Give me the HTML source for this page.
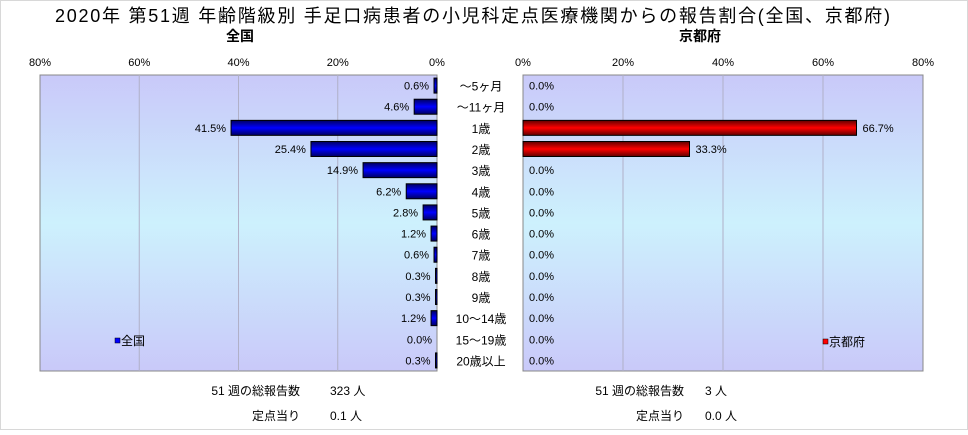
<!DOCTYPE html>
<html><head><meta charset="utf-8">
<style>
body{margin:0;background:#fff;}
svg text{font-family:"Liberation Sans","Noto Sans CJK JP",sans-serif;}
</style></head>
<body>
<svg id="c" width="968" height="430" xmlns="http://www.w3.org/2000/svg">
<defs>
<linearGradient id="bg" x1="0" y1="0" x2="0" y2="1">
<stop offset="0" stop-color="#c9c9f9"/><stop offset="0.5" stop-color="#cdf1fd"/><stop offset="1" stop-color="#c9c9f9"/>
</linearGradient>
<linearGradient id="blue" x1="0" y1="0" x2="0" y2="1">
<stop offset="0" stop-color="#000060"/><stop offset="0.5" stop-color="#0000ff"/><stop offset="1" stop-color="#000060"/>
</linearGradient>
<linearGradient id="red" x1="0" y1="0" x2="0" y2="1">
<stop offset="0" stop-color="#600000"/><stop offset="0.5" stop-color="#ff0000"/><stop offset="1" stop-color="#600000"/>
</linearGradient>
</defs>
<rect x="0.5" y="0.5" width="967" height="429" fill="#fff" stroke="#d8d8d8"/>
<text x="55" y="22" font-size="18" textLength="835" lengthAdjust="spacing">2020年 第51週 年齢階級別 手足口病患者の小児科定点医療機関からの報告割合(全国、京都府)</text>
<text x="240" y="41" font-size="14" font-weight="bold" text-anchor="middle">全国</text>
<text x="700" y="41" font-size="14" font-weight="bold" text-anchor="middle">京都府</text>
<g id="plots"></g>
<text x="300" y="395" font-size="12" text-anchor="end">51 週の総報告数</text>
<text x="330" y="395" font-size="12">323 人</text>
<text x="300" y="420" font-size="12" text-anchor="end">定点当り</text>
<text x="330" y="420" font-size="12">0.1 人</text>
<text x="684" y="395" font-size="12" text-anchor="end">51 週の総報告数</text>
<text x="705" y="395" font-size="12">3 人</text>
<text x="684" y="420" font-size="12" text-anchor="end">定点当り</text>
<text x="705" y="420" font-size="12">0.0 人</text>
</svg>
<script>
const categories=["〜5ヶ月","〜11ヶ月","1歳","2歳","3歳","4歳","5歳","6歳","7歳","8歳","9歳","10〜14歳","15〜19歳","20歳以上"];
const nationalValues=[0.6,4.6,41.5,25.4,14.9,6.2,2.8,1.2,0.6,0.3,0.3,1.2,0.0,0.3];
const kyotoValues=[0,0,66.7,33.3,0,0,0,0,0,0,0,0,0,0];
const tickValues=[0,20,40,60,80];
const NS="http://www.w3.org/2000/svg";
const g=document.getElementById('plots');
const top0=75,bottom0=371,rowH=(bottom0-top0)/categories.length;
const leftX=v=>437-v*(397/80);
const rightX=v=>523+v*(400/80);
const rowY=i=>top0+rowH*(i+0.5);
function mk(tag,attrs){const e=document.createElementNS(NS,tag);for(const k in attrs)e.setAttribute(k,attrs[k]);g.appendChild(e);return e;}
function panel(side){
  const sx=side==='L'?leftX:rightX;
  const x0=Math.min(sx(0),sx(80)),x1=Math.max(sx(0),sx(80));
  const bg=mk('rect',{x:x0,y:top0,width:x1-x0,height:bottom0-top0,fill:'url(#bg)',stroke:'#888'});
  
  
  tickValues.forEach(t=>{
    if(t>0&&t<80){const l=mk('line',{x1:sx(t),x2:sx(t),y1:top0,y2:bottom0,stroke:'#b0b0c8'});
      
      }
    const tx=mk('text',{x:sx(t),y:66,'font-size':11,'text-anchor':'middle'});
    tx.textContent=t+'%';
    
    
  });
  const vals=side==='L'?nationalValues:kyotoValues;
  vals.forEach((v,i)=>{
    const y=rowY(i),bh=15;
    if(v>0){
      const a=sx(0),b=sx(v);
      const r=mk('rect',{x:Math.min(a,b),y:y-bh/2,width:Math.max(1,Math.abs(b-a)),height:bh,fill:side==='L'?'url(#blue)':'url(#red)',stroke:'#000','stroke-width':1});
      
      
    }
    const lx=side==='L'?sx(v)-5:sx(v)+6;
    const t=mk('text',{x:lx,y:y+4,'font-size':11,'text-anchor':side==='L'?'end':'start'});
    t.textContent=v.toFixed(1)+'%';
    
    
  });
}
panel('L');panel('R');
categories.forEach((c,i)=>{
  const t=mk('text',{x:481,y:rowY(i)+5,'font-size':12,'text-anchor':'middle'});
  t.textContent=c;
  
  
});
const l1=mk('rect',{x:115,y:338,width:5,height:5,fill:'#0000ff',stroke:'#000','stroke-width':0.5});


const lt1=mk('text',{x:121,y:345,'font-size':12});lt1.textContent='全国';


const l2=mk('rect',{x:823,y:339,width:5,height:5,fill:'#ff0000',stroke:'#000','stroke-width':0.5});


const lt2=mk('text',{x:829,y:346,'font-size':12});lt2.textContent='京都府';


</script>
</body></html>
